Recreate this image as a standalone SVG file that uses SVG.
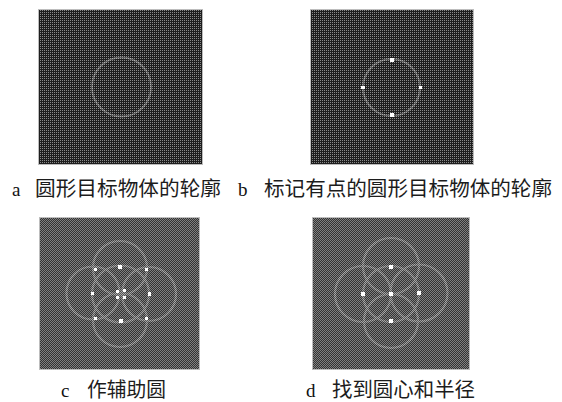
<svg xmlns="http://www.w3.org/2000/svg" width="562" height="402" viewBox="0 0 562 402">
<style>
.cn{font-family:"Noto Sans CJK SC","Noto Sans CJK JP",sans-serif;font-size:20px;fill:#1c1c1c}
.lt{font-family:"Liberation Serif",serif;font-size:19px;fill:#111}
.ring{fill:none;stroke:url(#st);stroke-width:2}
.ring2{fill:none;stroke:url(#st2);stroke-width:2.2}
.pt{fill:#fff}
.frame{stroke:#bdbdbd;stroke-width:1}
</style>
<defs>
<pattern id="dark" width="2" height="2" patternUnits="userSpaceOnUse">
<rect width="2" height="2" fill="#1e1e1e"/><rect width="1" height="1" fill="#8a8a8a"/>
</pattern>
<pattern id="chk" width="2" height="2" patternUnits="userSpaceOnUse">
<rect width="2" height="2" fill="#333"/><rect width="1" height="1" fill="#808080"/><rect x="1" y="1" width="1" height="1" fill="#808080"/>
</pattern>
<pattern id="st" width="2" height="2" patternUnits="userSpaceOnUse">
<rect width="2" height="2" fill="#5c5c5c"/><rect width="1" height="1" fill="#b4b4b4"/>
</pattern>
<pattern id="st2" width="2" height="2" patternUnits="userSpaceOnUse">
<rect width="2" height="2" fill="#555"/><rect width="1" height="1" fill="#aaa"/><rect x="1" y="1" width="1" height="1" fill="#aaa"/>
</pattern>
</defs>
<rect width="562" height="402" fill="#fff"/>
<g id="panel-a">
<rect class="frame" x="38.5" y="9.5" width="164" height="155" fill="url(#dark)"/>
<circle class="ring" cx="121.5" cy="87" r="29.5"/>
</g>
<g id="panel-b">
<rect class="frame" x="310.5" y="9.5" width="163" height="155" fill="url(#dark)"/>
<circle class="ring" cx="391.5" cy="87.5" r="28.5"/>
<rect class="pt" x="390" y="58" width="4" height="4"/>
<rect class="pt" x="361" y="86" width="4" height="3"/>
<rect class="pt" x="419" y="86" width="3" height="3"/>
<rect class="pt" x="390" y="113" width="4" height="4"/>
</g>
<g id="panel-c">
<rect class="frame" x="39.5" y="217.5" width="160" height="152" fill="url(#chk)"/>
<circle class="ring2" cx="120" cy="268" r="27"/>
<circle class="ring2" cx="93" cy="293" r="26.5"/>
<circle class="ring2" cx="149" cy="294" r="27"/>
<circle class="ring2" cx="120" cy="320" r="27"/>
<circle class="ring2" cx="120.500" cy="294" r="28.500"/>
<rect class="pt" x="94" y="268" width="3" height="3"/>
<rect class="pt" x="118" y="265" width="4" height="4"/>
<rect class="pt" x="145" y="268" width="3" height="3"/>
<rect class="pt" x="91" y="292" width="3" height="3"/>
<rect class="pt" x="148" y="292" width="3" height="4"/>
<rect class="pt" x="94" y="317" width="3" height="3"/>
<rect class="pt" x="119" y="319" width="4" height="4"/>
<rect class="pt" x="145" y="317" width="3" height="3"/>
<rect class="pt" x="116" y="290" width="3" height="3"/>
<rect class="pt" x="123" y="289" width="3" height="3"/>
<rect class="pt" x="116" y="296" width="3" height="3"/>
<rect class="pt" x="123" y="296" width="3" height="3"/>
</g>
<g id="panel-d">
<rect class="frame" x="312.500" y="217.500" width="157" height="152" fill="url(#chk)"/>
<circle class="ring2" cx="391" cy="266" r="28"/>
<circle class="ring2" cx="363" cy="294" r="28"/>
<circle class="ring2" cx="419" cy="293" r="28.500"/>
<circle class="ring2" cx="391" cy="321" r="27"/>
<circle class="ring2" cx="391" cy="294" r="28"/>
<rect class="pt" x="389" y="265" width="4" height="4"/>
<rect class="pt" x="361" y="292" width="4" height="4"/>
<rect class="pt" x="417" y="291" width="4" height="4"/>
<rect class="pt" x="389" y="319" width="4" height="4"/>
<rect class="pt" x="389" y="292" width="4" height="4"/>
</g>
<g id="captions">
<text class="lt" x="12" y="196">a</text>
<text class="cn" x="35" y="196" textLength="186" lengthAdjust="spacingAndGlyphs">圆形目标物体的轮廓</text>
<text class="lt" x="238" y="196">b</text>
<text class="cn" x="264" y="196" textLength="288" lengthAdjust="spacingAndGlyphs">标记有点的圆形目标物体的轮廓</text>
<text class="lt" x="61" y="397">c</text>
<text class="cn" x="87" y="397" textLength="79" lengthAdjust="spacingAndGlyphs">作辅助圆</text>
<text class="lt" x="306" y="397">d</text>
<text class="cn" x="332" y="397" textLength="143" lengthAdjust="spacingAndGlyphs">找到圆心和半径</text>
</g>
</svg>
